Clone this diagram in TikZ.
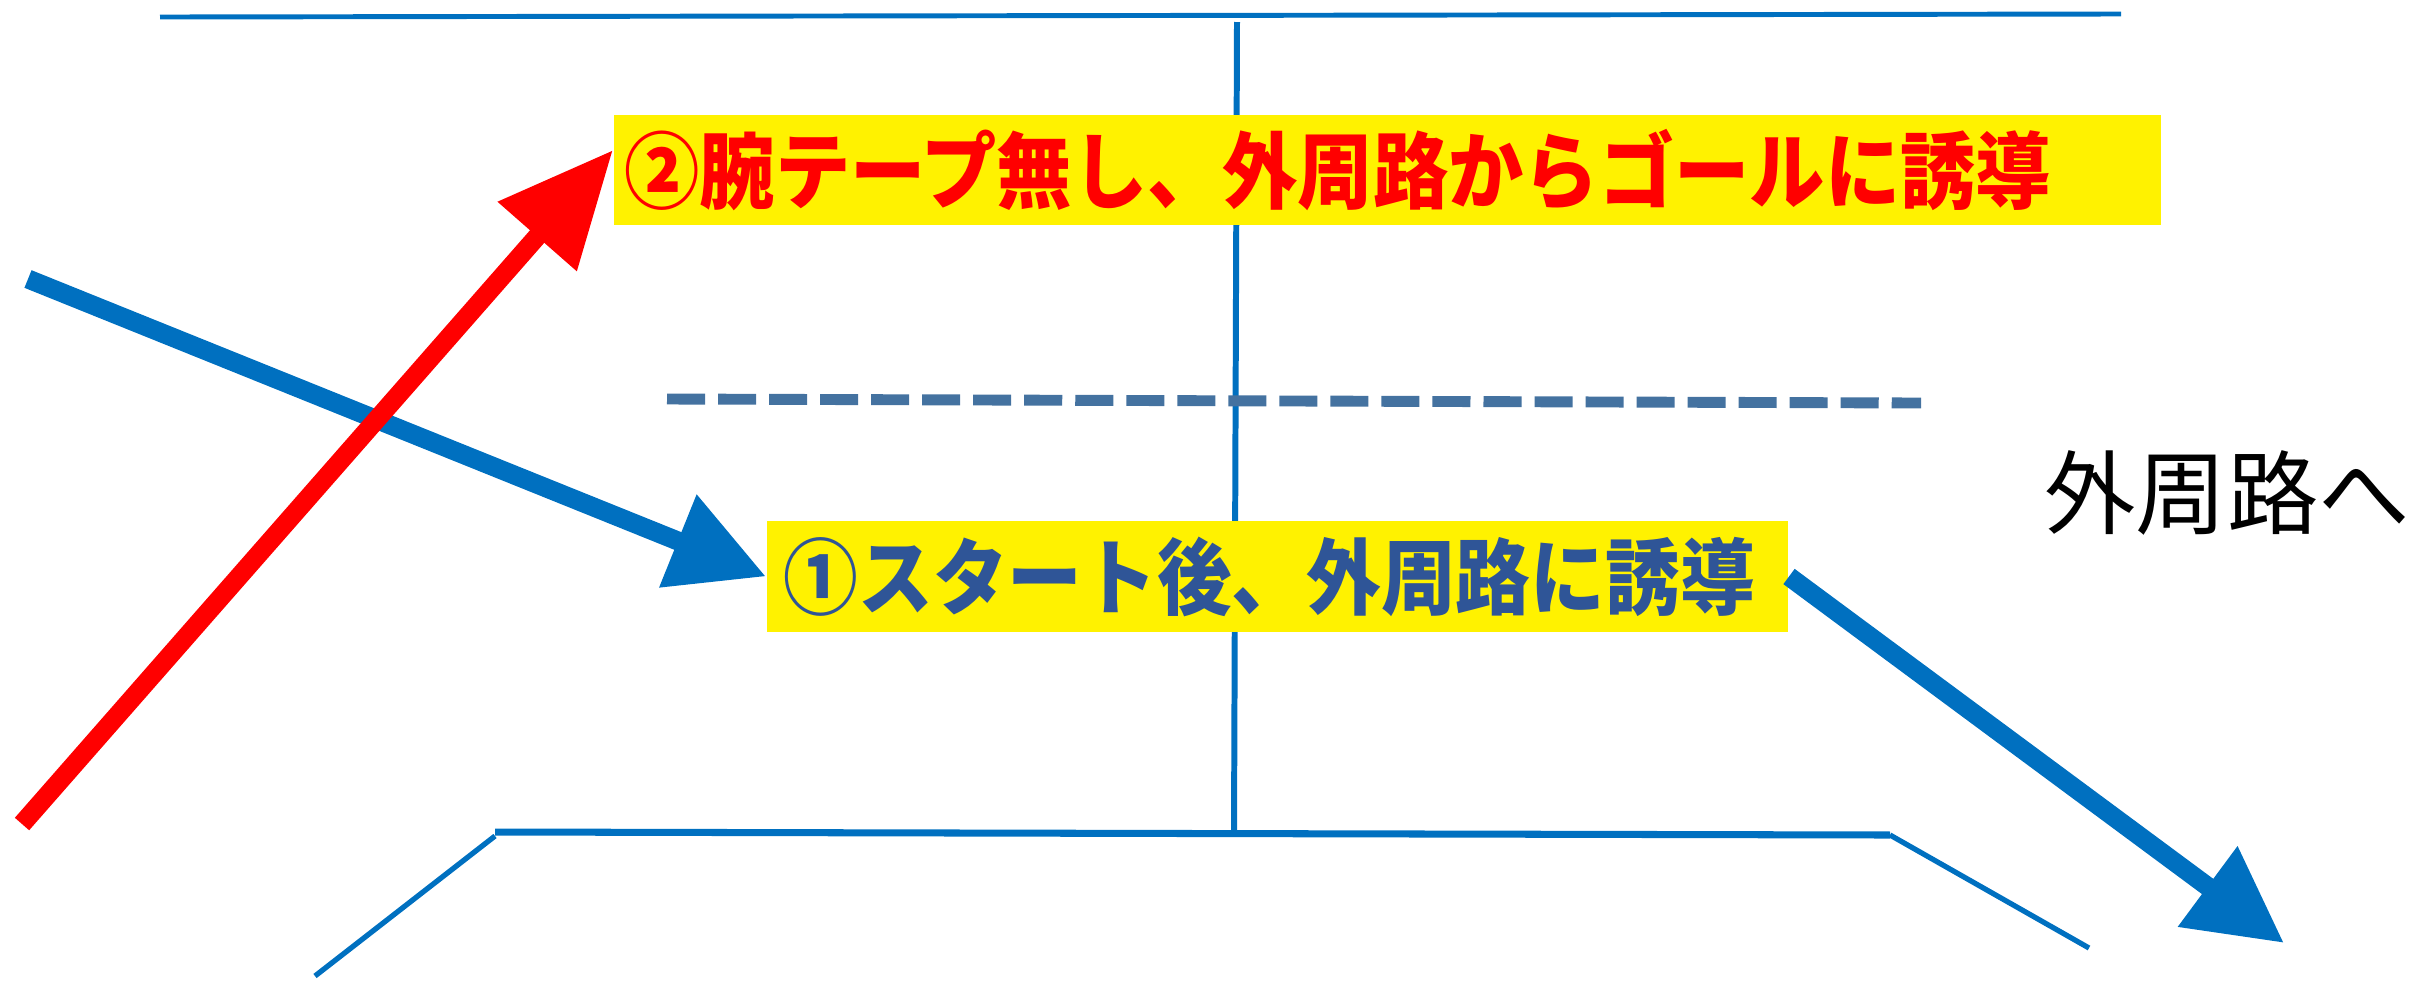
\documentclass[tikz,border=0pt]{standalone}
\usepackage{fontspec}
\setmainfont{Noto Sans CJK JP}
\usetikzlibrary{arrows.meta}
\definecolor{roadblue}{RGB}{0,112,192}
\definecolor{dashblue}{RGB}{68,114,160}
\definecolor{textblue}{RGB}{47,85,151}
\newcommand{\narrowtxt}[1]{\scalebox{0.9}[1]{#1}}
\tikzset{
  lbl_box/.style = {fill=yellow, inner ysep=0pt, align=left},% label on yellow
  road/.style = {roadblue, line width=1.5pt},% course edge
  route_b/.style = {roadblue, line width=5.4pt,
    -{Triangle[length=0.95cm,width=0.95cm]}},% runner route, blue
  route_r/.style = {red, line width=5.4pt,
    -{Triangle[length=1.15cm,width=1.0cm]}},% runner route, red
}

\begin{document}
\begin{tikzpicture}[x=0.01cm,y=-0.01cm]
  \useasboundingbox (0,0) rectangle (2433,987);

  %   course
  \draw[road, line width=1.4pt] (160,17) -- (2121,14);
  \draw[road, line width=1.7pt] (1237,22) -- (1234,832);
  \draw[road, line width=2pt] (495,832) -- (1890,835);
  \draw[road] (495,836) -- (315,976);
  \draw[road] (1890,835) -- (2089,948);
  \draw[dashblue, line width=3.1pt, dash pattern=on 0.38cm off 0.13cm] (667,399) -- (1921,403);

  %   labels
  \node[lbl_box, text width=15.25cm, inner xsep=0.11cm, minimum height=1.1cm,
    text=red, font=\bfseries\fontsize{23.8}{25}\selectfont] (goal_box) at (1387.5,170)
    {\narrowtxt{②腕テープ無し、外周路からゴールに誘導}};
  \node[lbl_box, text width=9.87cm, inner xsep=0.17cm, minimum height=1.11cm,
    text=textblue, font=\bfseries\fontsize{23.6}{25}\selectfont] (start_box) at (1277.5,576.5)
    {\narrowtxt{①スタート後、外周路に誘導}};
  \node[font=\fontsize{26}{28}\selectfont] (outer) at (2227,493) {外周路へ};

  \coordinate (b_in) at (28,279);
  \coordinate (b_out) at (2284,943);
  \coordinate (r_in) at (22,824);
  \coordinate (r_out) at (613,150);

  %   routes
  \draw[route_b] (b_in) -- (start_box.west);
  \draw[route_b] (start_box.east) -- (b_out);
  \draw[route_r] (r_in) -- (r_out);
\end{tikzpicture}
\end{document}
